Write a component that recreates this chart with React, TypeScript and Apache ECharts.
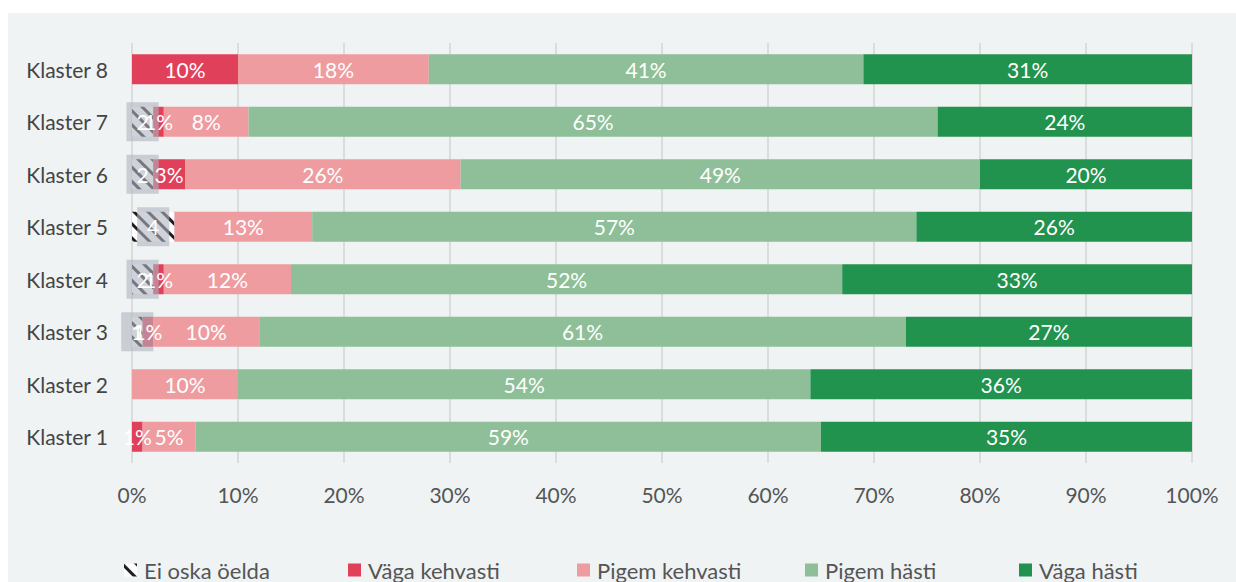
import React, { useEffect, useRef } from "react";
import * as echarts from "echarts";

const categories = ["Klaster 1", "Klaster 2", "Klaster 3", "Klaster 4", "Klaster 5", "Klaster 6", "Klaster 7", "Klaster 8"];
const eiOska = [0, 0, 1, 2, 4, 2, 2, 0];
const vagaKehvasti = [1, 0, 1, 1, 0, 3, 1, 10];
const pigemKehvasti = [5, 10, 10, 12, 13, 26, 8, 18];
const pigemHasti = [59, 54, 61, 52, 57, 49, 65, 41];
const vagaHasti = [35, 36, 27, 33, 26, 20, 24, 31];
const seriesNames = ["Ei oska öelda", "Väga kehvasti", "Pigem kehvasti", "Pigem hästi", "Väga hästi"];
const xTicks = [0, 10, 20, 30, 40, 50, 60, 70, 80, 90, 100];

const FONT = "Lato";
const legendLefts = [111, 335, 564, 792, 1006];

export default function App() {
  const ref = useRef<HTMLDivElement>(null);
  useEffect(() => {
    if (!ref.current) return;
    const chart = echarts.init(ref.current, null, { renderer: "svg" });
    const mk = (vals: number[]) => vals.map((v) => ({ value: v, label: { show: v > 0 } }));
    const baseLabel = {
      show: true,
      position: "inside",
      color: "#ffffff",
      fontFamily: FONT,
      fontSize: 21,
      formatter: "{c}%",
    };
    const colors = ["#ffffff", "#e0405a", "#ee9ca0", "#8ebf98", "#22924f"];
    const values = [eiOska, vagaKehvasti, pigemKehvasti, pigemHasti, vagaHasti];
    const series: any[] = seriesNames.map((name, i) => ({
      type: "bar",
      name,
      stack: "total",
      barWidth: 30,
      data: mk(values[i]),
      itemStyle:
        i === 0
          ? {
              color: "#ffffff",
              decal: {
                symbol: "rect",
                color: "#1e1e1e",
                dashArrayX: [1, 0],
                dashArrayY: [3, 7],
                rotation: Math.PI / 4,
              },
            }
          : { color: colors[i] },
      label:
        i === 0
          ? {
              ...baseLabel,
              formatter: "{c}",
              backgroundColor: "rgba(175,180,190,0.6)",
              padding: [9, 10],
            }
          : baseLabel,
    }));
    const legends = seriesNames.map((name, i) => ({
      left: legendLefts[i],
      top: 541,
      itemWidth: 13,
      itemHeight: 13,
      icon: "rect",
      textStyle: { color: "#555555", fontSize: 22, fontFamily: FONT, padding: [0, 0, 0, 2] },
      data: [name],
    }));
    chart.setOption({
      animation: false,
      backgroundColor: "#eff3f4",
      textStyle: { fontFamily: FONT },
      grid: { left: 124, right: 44, top: 30, bottom: 119 },
      xAxis: {
        type: "value",
        min: xTicks[0],
        max: xTicks[xTicks.length - 1],
        interval: 10,
        axisLine: { show: false },
        axisTick: { show: false },
        splitLine: { show: true, lineStyle: { color: "#dcdcdc", width: 2 } },
        axisLabel: { formatter: "{value}%", color: "#555555", fontSize: 21, fontFamily: FONT, margin: 21 },
      },
      yAxis: {
        type: "category",
        data: categories,
        axisLine: { show: false },
        axisTick: { show: false },
        axisLabel: { color: "#444444", fontSize: 21, fontFamily: FONT, margin: 24 },
      },
      legend: legends,
      series,
    });
    return () => chart.dispose();
  }, []);
  return (
    <div
      ref={ref}
      style={{ position: "absolute", left: 8, top: 13, width: 1228, height: 569 }}
    />
  );
}
